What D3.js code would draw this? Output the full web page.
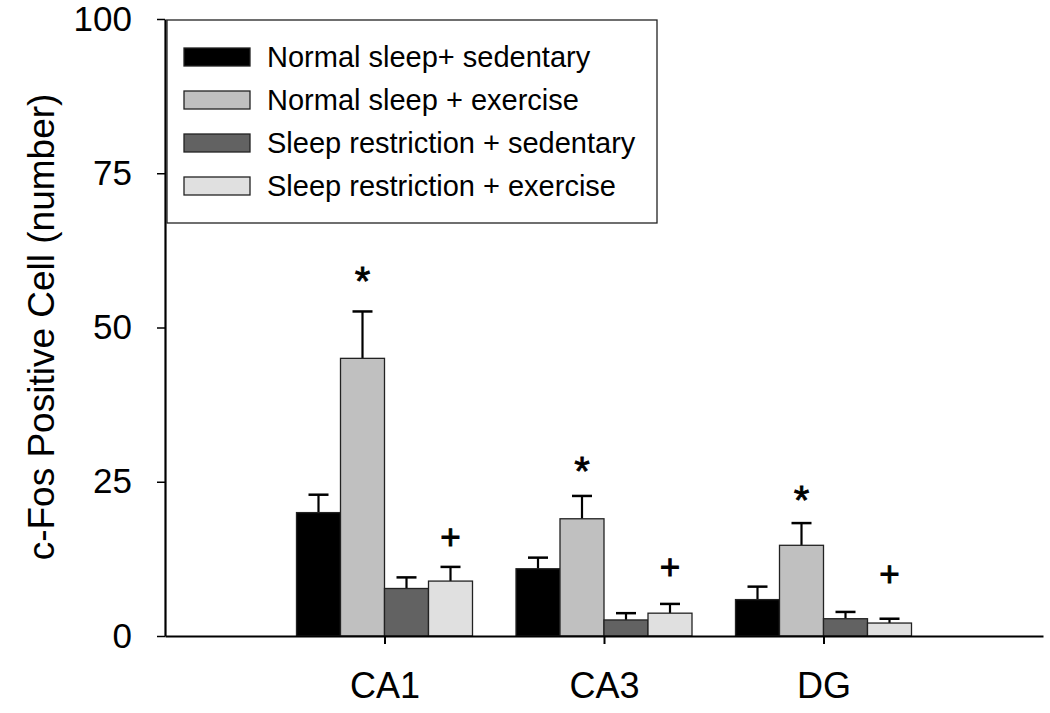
<!DOCTYPE html>
<html>
<head>
<meta charset="utf-8">
<script src="https://cdn.jsdelivr.net/npm/d3@7"></script>
<style>
  html, body { margin: 0; padding: 0; background: #fff; }
  svg { display: block; font-family: "Liberation Sans", Arial, sans-serif; }
</style>
</head>
<body>
<script>
// ---- data ----
const categories = ["CA1", "CA3", "DG"];
const seriesNames = [
  "Normal sleep+ sedentary",
  "Normal sleep + exercise",
  "Sleep restriction + sedentary",
  "Sleep restriction + exercise"
];
const normalSedentary = [20.0, 10.9, 5.9];
const normalExercise = [45.0, 19.0, 14.7];
const restrictSedentary = [7.7, 2.6, 2.8];
const restrictExercise = [8.9, 3.7, 2.1];
const normalSedentaryErr = [2.9, 1.8, 2.1];
const normalExerciseErr = [7.6, 3.7, 3.6];
const restrictSedentaryErr = [1.8, 1.1, 1.1];
const restrictExerciseErr = [2.3, 1.5, 0.7];
const starLevel = [58.9, 28.2, 23.4];   // "*" above Normal sleep + exercise
const plusLevel = [16.1, 11.2, 10.1];   // "+" above Sleep restriction + exercise
const yTicks = [0, 25, 50, 75, 100];
const yTitle = "c-Fos Positive Cell (number)";

const seriesValues = [normalSedentary, normalExercise, restrictSedentary, restrictExercise];
const seriesErrors = [normalSedentaryErr, normalExerciseErr, restrictSedentaryErr, restrictExerciseErr];
const fills = ["#000000", "#c0c0c0", "#626262", "#e0e0e0"];

// ---- layout ----
const W = 1050, H = 713;
const x0 = 165, x1 = 1043, yTop = 19, yBot = 636;

const svg = d3.select("body").append("svg").attr("width", W).attr("height", H);

const y = d3.scaleLinear().domain([0, 100]).range([yBot, yTop]);
const x = d3.scalePoint().domain(categories).range([x0, x1]).padding(1);
const xs = d3.scaleBand().domain(d3.range(seriesNames.length)).range([-88, 88]).padding(0);

// bars
const rows = [];
categories.forEach((c, ci) => {
  seriesNames.forEach((s, si) => {
    rows.push({c, si, v: seriesValues[si][ci], e: seriesErrors[si][ci]});
  });
});

const g = svg.append("g");
// error bars (drawn first, behind bars)
const eb = g.selectAll(".err").data(rows).enter().append("g").attr("class", "err");
eb.append("line")
  .attr("x1", d => x(d.c) + xs(d.si) + xs.bandwidth() / 2)
  .attr("x2", d => x(d.c) + xs(d.si) + xs.bandwidth() / 2)
  .attr("y1", d => y(d.v))
  .attr("y2", d => y(d.v + d.e))
  .attr("stroke", "#000").attr("stroke-width", 2.2);
eb.append("line")
  .attr("x1", d => x(d.c) + xs(d.si) + xs.bandwidth() / 2 - 10)
  .attr("x2", d => x(d.c) + xs(d.si) + xs.bandwidth() / 2 + 10)
  .attr("y1", d => y(d.v + d.e))
  .attr("y2", d => y(d.v + d.e))
  .attr("stroke", "#000").attr("stroke-width", 2.5);

g.selectAll(".bar").data(rows).enter().append("rect")
  .attr("class", "bar")
  .attr("x", d => x(d.c) + xs(d.si))
  .attr("y", d => y(d.v))
  .attr("width", xs.bandwidth())
  .attr("height", d => y(0) - y(d.v))
  .attr("fill", d => fills[d.si])
  .attr("stroke", "#222").attr("stroke-width", 1.3);

// significance markers
const starFs = 40, plusFs = 35;
svg.selectAll(".star").data(categories).enter().append("text")
  .attr("x", (c) => x(c) + xs(1) + xs.bandwidth() / 2)
  .attr("y", (c, i) => y(starLevel[i]) + 0.57 * starFs)
  .attr("text-anchor", "middle").attr("font-size", starFs).attr("fill", "#000")
  .attr("stroke", "#000").attr("stroke-width", 0.8)
  .text("*");
svg.selectAll(".plus").data(categories).enter().append("text")
  .attr("x", (c) => x(c) + xs(3) + xs.bandwidth() / 2)
  .attr("y", (c, i) => y(plusLevel[i]) + 0.35 * plusFs)
  .attr("text-anchor", "middle").attr("font-size", plusFs).attr("fill", "#000")
  .attr("stroke", "#000").attr("stroke-width", 0.9)
  .text("+");

// axes
const yAxis = svg.append("g").attr("transform", `translate(${x0},0)`)
  .call(d3.axisLeft(y).tickValues(yTicks).tickSize(8).tickPadding(25).tickSizeOuter(0));
yAxis.select(".domain").attr("stroke", "#000").attr("stroke-width", 2.2);
yAxis.selectAll(".tick line").attr("stroke", "#000").attr("stroke-width", 1.5);
yAxis.selectAll(".tick text").attr("font-size", 35).attr("fill", "#000")
  .attr("font-family", "Liberation Sans, Arial, sans-serif");

const xAxis = svg.append("g").attr("transform", `translate(0,${yBot})`)
  .call(d3.axisBottom(x).tickSize(8).tickPadding(28).tickSizeOuter(0));
xAxis.select(".domain").attr("stroke", "#000").attr("stroke-width", 2.2);
xAxis.selectAll(".tick line").attr("stroke", "#000").attr("stroke-width", 2);
xAxis.selectAll(".tick text").attr("font-size", 36).attr("fill", "#000")
  .attr("font-family", "Liberation Sans, Arial, sans-serif");

// y title
svg.append("text")
  .attr("transform", `translate(54,327) rotate(-90)`)
  .attr("text-anchor", "middle").attr("font-size", 37).attr("fill", "#000")
  .text(yTitle);

// legend
const lg = svg.append("g");
lg.append("rect").attr("x", 167).attr("y", 20).attr("width", 490).attr("height", 203)
  .attr("fill", "#fff").attr("stroke", "#222").attr("stroke-width", 1.3);
const items = lg.selectAll(".li").data(seriesNames).enter().append("g")
  .attr("transform", (d, i) => `translate(0,${57 + i * 43})`);
items.append("rect").attr("x", 184).attr("y", -9).attr("width", 66).attr("height", 18)
  .attr("fill", (d, i) => fills[i]).attr("stroke", "#222").attr("stroke-width", 1.3);
items.append("text").attr("x", 267).attr("y", 10).attr("font-size", 29).attr("fill", "#000")
  .text(d => d);
</script>
</body>
</html>
